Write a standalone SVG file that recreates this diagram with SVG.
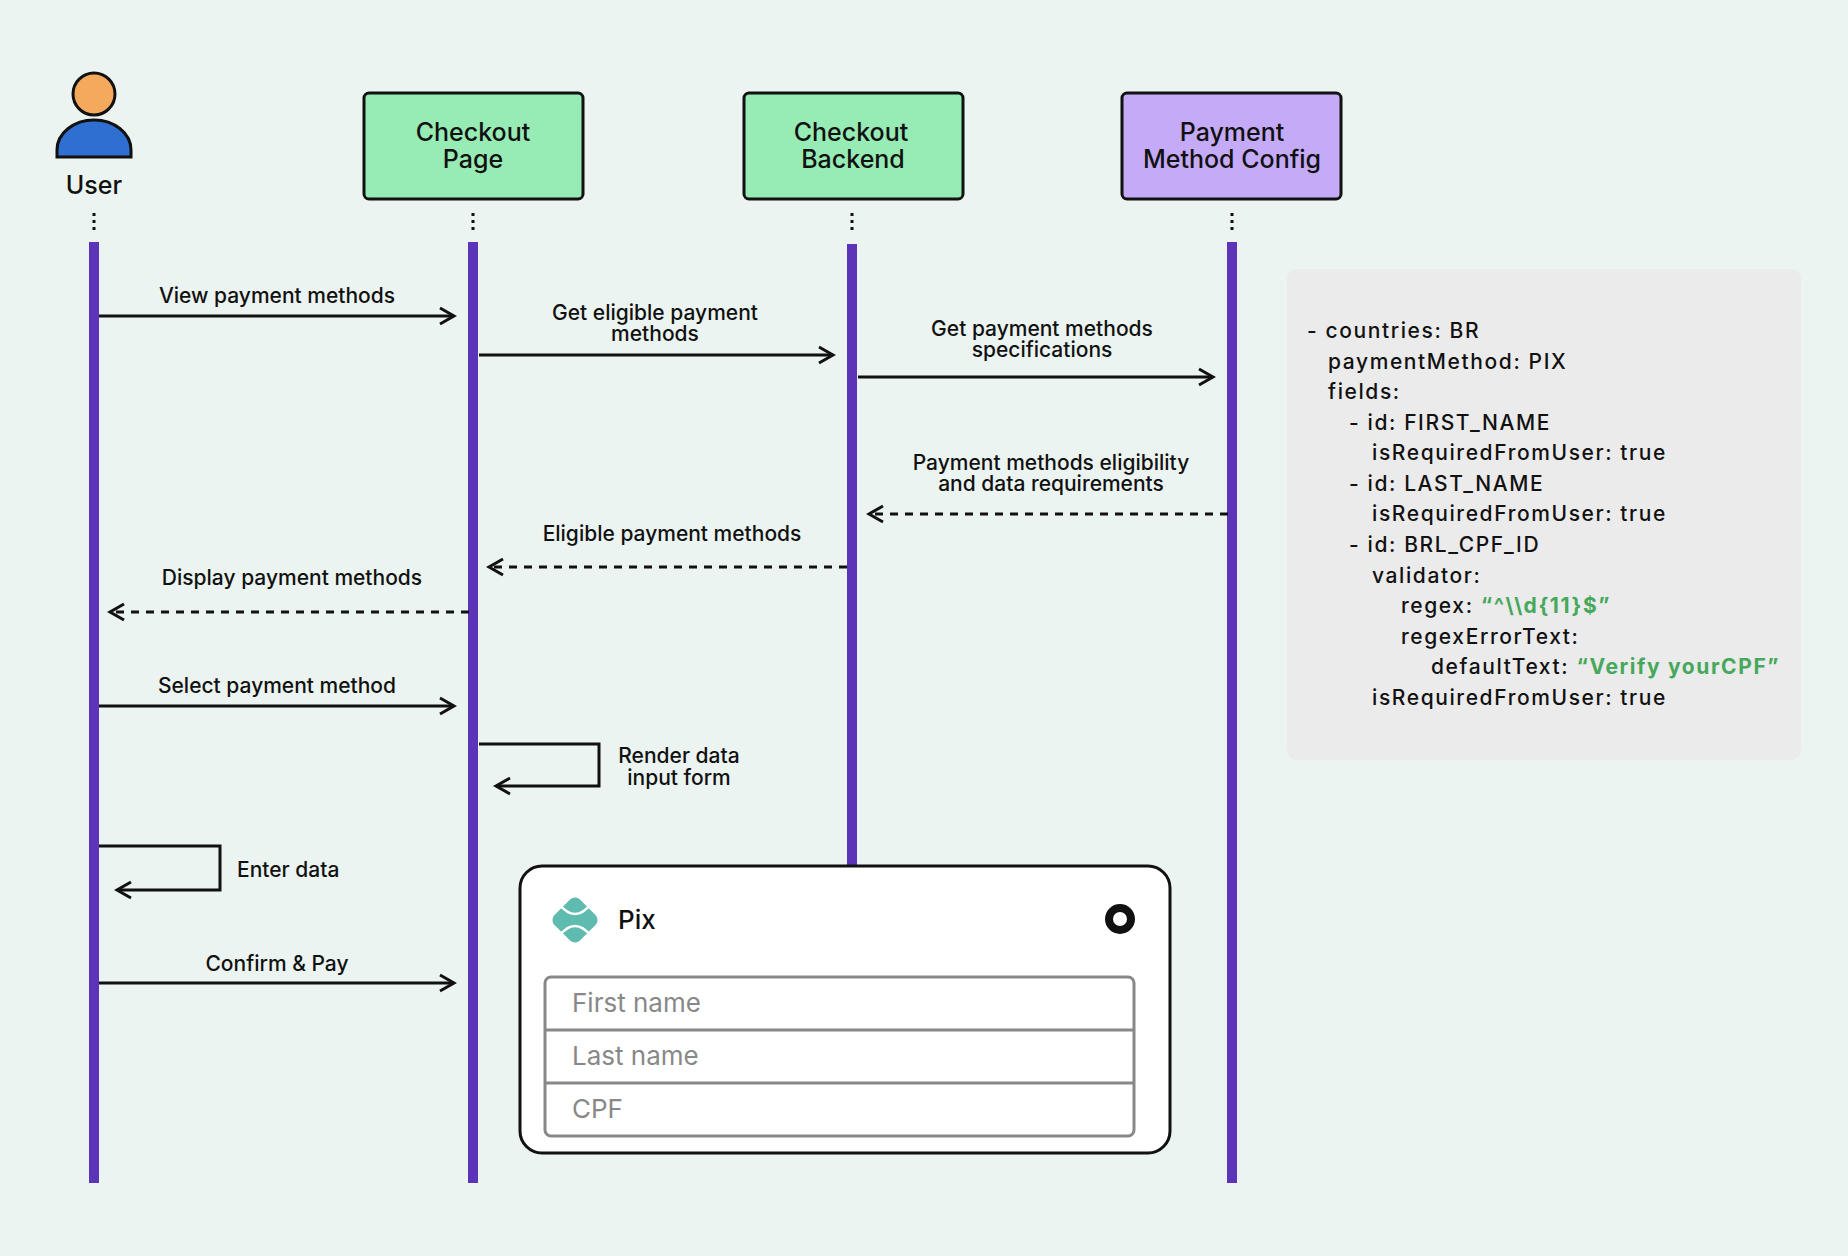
<svg xmlns="http://www.w3.org/2000/svg" width="1848" height="1256" viewBox="0 0 1848 1256">
<style>
text{font-family:Inter,"Noto Sans","Liberation Sans",sans-serif;fill:#111;font-weight:500}
.hd{font-size:25px;text-anchor:middle}
.lb{font-size:21px;text-anchor:middle}
.ll{stroke:#5b34b8;stroke-width:10}
.dots{stroke:#111;stroke-width:3;stroke-dasharray:3 4}
.m{fill:none;stroke:#111;stroke-width:3;marker-end:url(#ah)}
.d{stroke-dasharray:8 7}
.code{font-size:21px;letter-spacing:1.6px}
.g{fill:#46a85a;font-weight:bold}
.fld{font-size:26px;fill:#888;font-weight:400}
</style>
<defs>
<marker id="ah" viewBox="0 0 20 20" refX="17" refY="10" markerWidth="20" markerHeight="20" markerUnits="userSpaceOnUse" orient="auto">
<path d="M3,2 L17,10 L3,18" fill="none" stroke="#111" stroke-width="3"/>
</marker>
</defs>
<rect width="1848" height="1256" fill="#ebf4f0"/>
<g id="user">
<circle cx="94" cy="94" r="21" fill="#f4a95c" stroke="#111" stroke-width="3"/>
<path d="M57,157 L57,150 A37,30 0 0 1 131,150 L131,157 Z" fill="#2f6fd1" stroke="#111" stroke-width="3"/>
<text x="94" y="194" class="hd">User</text>
<line x1="94" y1="213" x2="94" y2="231" class="dots"/>
<line x1="94" y1="242" x2="94" y2="1183" class="ll"/>
</g>
<g id="checkoutPage">
<rect x="364" y="93" width="219" height="106" rx="5" fill="#97ebb4" stroke="#111" stroke-width="3"/>
<text x="473" y="141" class="hd">Checkout</text><text x="473" y="168" class="hd">Page</text>
<line x1="473" y1="213" x2="473" y2="231" class="dots"/>
<line x1="473" y1="242" x2="473" y2="1183" class="ll"/>
</g>
<g id="checkoutBackend">
<rect x="744" y="93" width="219" height="106" rx="5" fill="#97ebb4" stroke="#111" stroke-width="3"/>
<text x="851" y="141" class="hd">Checkout</text><text x="853" y="168" class="hd">Backend</text>
<line x1="852" y1="213" x2="852" y2="231" class="dots"/>
<line x1="852" y1="244" x2="852" y2="866" class="ll"/>
</g>
<g id="paymentMethodConfig">
<rect x="1122" y="93" width="219" height="106" rx="5" fill="#c4aaf7" stroke="#111" stroke-width="3"/>
<text x="1232" y="141" class="hd">Payment</text><text x="1232" y="168" class="hd">Method Config</text>
<line x1="1232" y1="213" x2="1232" y2="231" class="dots"/>
<line x1="1232" y1="242" x2="1232" y2="1183" class="ll"/>
</g>
<g id="connectors">
<path class="m" d="M99,316 H454"/>
<text x="277" y="303" class="lb">View payment methods</text>
<path class="m" d="M479,355 H833"/>
<text x="655" y="320" class="lb">Get eligible payment</text><text x="655" y="341" class="lb">methods</text>
<path class="m" d="M858,377 H1213"/>
<text x="1042" y="336" class="lb">Get payment methods</text><text x="1042" y="357" class="lb">specifications</text>
<path class="m d" d="M1228,514 H869"/>
<text x="1051" y="470" class="lb">Payment methods eligibility</text><text x="1051" y="491" class="lb">and data requirements</text>
<path class="m d" d="M847,567 H489"/>
<text x="672" y="541" class="lb">Eligible payment methods</text>
<path class="m d" d="M469,612 H110"/>
<text x="292" y="585" class="lb">Display payment methods</text>
<path class="m" d="M99,706 H454"/>
<text x="277" y="693" class="lb">Select payment method</text>
<path class="m" d="M479,744 H599 V786 H496"/>
<text x="679" y="763" class="lb">Render data</text><text x="679" y="785" class="lb">input form</text>
<path class="m" d="M99,846 H220 V890 H117"/>
<text x="237" y="877" class="lb" style="text-anchor:start">Enter data</text>
<path class="m" d="M99,983 H454"/>
<text x="277" y="971" class="lb">Confirm &amp; Pay</text>
</g>
<g id="pixCard">
<rect x="520" y="866" width="650" height="287" rx="22" fill="#fff" stroke="#111" stroke-width="3"/>
<rect x="557" y="902" width="36" height="36" rx="7" fill="#5fbbb0" transform="rotate(45 575 920)"/>
<path d="M559,904 Q575,924 591,904 M559,936 Q575,916 591,936" fill="none" stroke="#fff" stroke-width="2.5"/>
<text x="618" y="929" style="font-size:26px">Pix</text>
<circle cx="1120" cy="919" r="11" fill="#fff" stroke="#111" stroke-width="8"/>
<rect x="545" y="977" width="589" height="159" rx="6" fill="#fff" stroke="#888" stroke-width="3"/>
<line x1="545" y1="1030" x2="1134" y2="1030" stroke="#888" stroke-width="3"/>
<line x1="545" y1="1083" x2="1134" y2="1083" stroke="#888" stroke-width="3"/>
<text x="572" y="1012" class="fld">First name</text>
<text x="572" y="1065" class="fld">Last name</text>
<text x="572" y="1118" class="fld">CPF</text>
</g>
<g id="configPanel">
<rect x="1287" y="269" width="514" height="491" rx="10" fill="#ebebeb"/>
<text class="code" x="1307" y="338">- countries: BR</text>
<text class="code" x="1328" y="369">paymentMethod: PIX</text>
<text class="code" x="1328" y="399">fields:</text>
<text class="code" x="1349" y="430">- id: FIRST_NAME</text>
<text class="code" x="1372" y="460">isRequiredFromUser: true</text>
<text class="code" x="1349" y="491">- id: LAST_NAME</text>
<text class="code" x="1372" y="521">isRequiredFromUser: true</text>
<text class="code" x="1349" y="552">- id: BRL_CPF_ID</text>
<text class="code" x="1372" y="583">validator:</text>
<text class="code" x="1401" y="613">regex: <tspan class="g">“^\\d{11}$”</tspan></text>
<text class="code" x="1401" y="644">regexErrorText:</text>
<text class="code" x="1431" y="674">defaultText: <tspan class="g">“Verify yourCPF”</tspan></text>
<text class="code" x="1372" y="705">isRequiredFromUser: true</text>
</g>
</svg>
